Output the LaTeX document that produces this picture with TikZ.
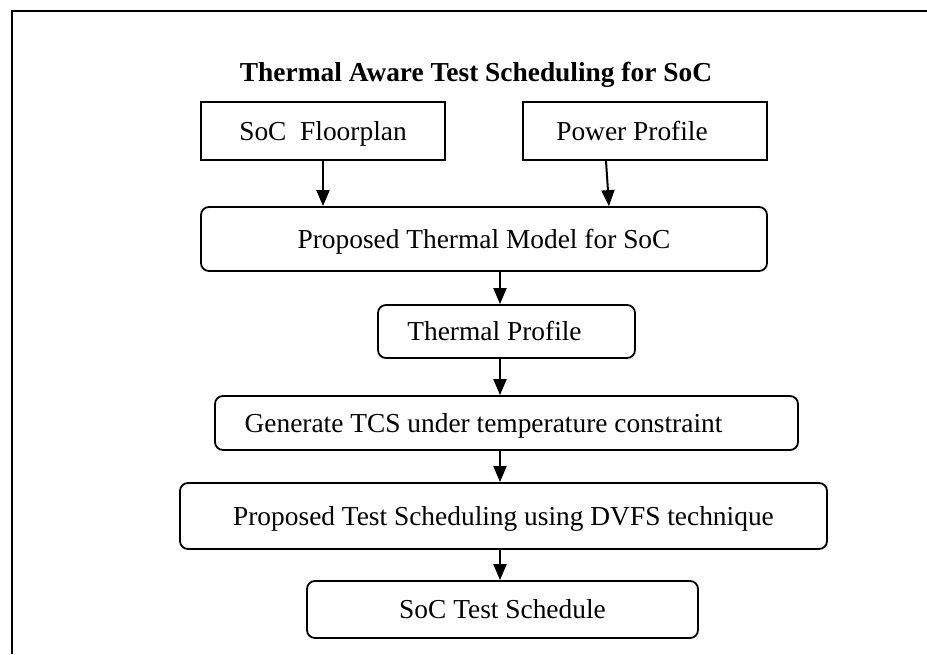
\documentclass[tikz,border=0pt]{standalone}
\usepackage{fontspec}
\setmainfont{Liberation Serif}
\usetikzlibrary{arrows.meta}
\tikzset{>={Triangle[length=16pt,width=13pt]}}
\tikzset{inbox/.style={draw, line width=1.8pt, inner sep=0pt, text height=18pt, text depth=0pt}}
\tikzset{stagebox/.style={inbox, rounded corners=8pt}}
\tikzset{flow/.style={->, line width=2pt}}

\begin{document}
\begin{tikzpicture}[x=1pt,y=-1pt,font=\fontsize{27.4}{33}\selectfont]
    \useasboundingbox (0,0) rectangle (927,654);
    \draw[line width=2pt] (12,654) -- (12,11) -- (927,11);
    \node[font=\fontsize{27.4}{33}\selectfont\bfseries, anchor=base] (title) at (476,81) {Thermal Aware Test Scheduling for SoC};
    % inputs
    \node[inbox, minimum width=244pt, minimum height=58pt] (floor) at (323,131) {SoC~~Floorplan};
    \node[inbox, minimum width=244pt, minimum height=58pt] (power) at (645,131) {Power Profile\hspace*{26pt}};
    % flow
    \node[stagebox, minimum width=566pt, minimum height=64pt] (model) at (484,239) {Proposed Thermal Model for SoC};
    \node[stagebox, minimum width=257pt, minimum height=53pt] (thermal) at (506.5,331.5) {Thermal Profile\hspace*{24pt}};
    \node[stagebox, minimum width=583pt, minimum height=54pt] (tcs) at (506.5,423) {Generate TCS under temperature constraint\hspace*{46pt}};
    \node[stagebox, minimum width=647pt, minimum height=66pt] (sched) at (503.5,516) {Proposed Test Scheduling using DVFS technique};
    \node[stagebox, minimum width=391pt, minimum height=57pt] (result) at (502.5,609.5) {SoC Test Schedule};
    \coordinate (axis) at (500,0);
    \coordinate (pin) at (606,0);
    \coordinate (pout) at (609,0);
    \draw[flow] (floor.south) -- (floor.south |- model.north);
    \draw[flow] (power.south -| pin) -- (model.north -| pout);
    \draw[flow] (model.south -| axis) -- (thermal.north -| axis);
    \draw[flow] (thermal.south -| axis) -- (tcs.north -| axis);
    \draw[flow] (tcs.south -| axis) -- (sched.north -| axis);
    \draw[flow] (sched.south -| axis) -- (result.north -| axis);
\end{tikzpicture}
\end{document}
